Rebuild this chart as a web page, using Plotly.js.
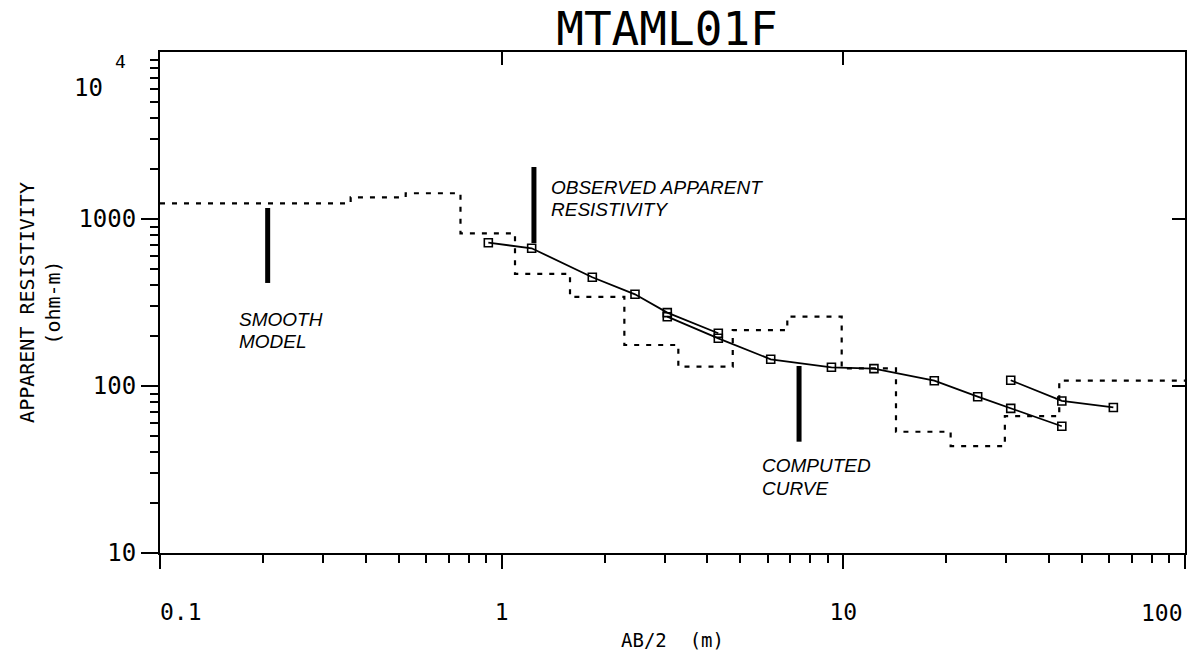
<!DOCTYPE html>
<html>
<head>
<meta charset="utf-8">
<script src="https://cdn.plot.ly/plotly-3.0.1.min.js"></script>
<style>html,body{margin:0;padding:0;background:#fff;}#chart{width:1189px;height:655px;}</style>
</head>
<body>
<div id="chart"></div>
<script>
// ---- Data ----
// Observed apparent resistivity / computed curve, three overlapping segments
const seg1AB  = [0.914, 1.224, 1.842, 2.456, 3.053, 4.306];
const seg1Rho = [721, 668, 448, 354, 275, 207];
const seg2AB  = [3.053, 4.306, 6.13, 9.23, 12.29, 18.46, 24.73, 30.9, 43.6];
const seg2Rho = [260, 193, 144.5, 129.4, 127, 107.6, 86.3, 73.5, 57.4];
const seg3AB  = [30.9, 43.6, 61.7];
const seg3Rho = [108.3, 81.4, 74.4];

// Smooth model (step line): layer boundaries (AB/2) and resistivities
const modelAB  = [0.1, 0.3614, 0.5237, 0.7576, 1.094, 1.585, 2.286, 3.289, 4.746, 6.855, 9.89, 14.26, 20.61, 29.7, 42.85, 100];
const modelRho = [1241, 1349, 1426, 821, 469, 342, 176, 130.5, 216, 260, 127.6, 53.2, 43.7, 66.1, 107.6, 107.6];

// Label pointer bars
const smoothPtrAB = [0.2066, 0.2066], smoothPtrRho = [1164, 414];
const obsPtrAB = [1.243, 1.243],      obsPtrRho = [2048, 718];
const compPtrAB = [7.42, 7.42],       compPtrRho = [131.8, 46.4];

// Tick labels
const xTickVals = [0.1, 1, 10, 100];
const xTickText = ['\u00A0\u00A0\u00A00.1', '1', '10', ''];
const xLastTickLabel = '100';
const yTickVals = [10, 100, 1000];
const yTickText = ['10', '100', '1000'];

function minorTicks(lo, hi) {
  const out = [];
  for (let d = lo; d < hi; d++) for (let k = 2; k <= 9; k++) out.push(k * Math.pow(10, d));
  return out;
}

const mono = 'DejaVu Sans Mono, Liberation Mono, monospace';
const sans = 'Liberation Sans, Arial, sans-serif';

const segLine = {color: '#000', width: 1.8};
const segMarker = {symbol: 'square-open', size: 8, color: '#000', line: {width: 1.6, color: '#000'}};

const traces = [
  {x: modelAB, y: modelRho, mode: 'lines', line: {shape: 'hv', color: '#000', width: 2.2, dash: '5px,7px'}, hoverinfo: 'skip'},
  {x: seg1AB, y: seg1Rho, mode: 'lines+markers', line: segLine, marker: segMarker},
  {x: seg2AB, y: seg2Rho, mode: 'lines+markers', line: segLine, marker: segMarker},
  {x: seg3AB, y: seg3Rho, mode: 'lines+markers', line: segLine, marker: segMarker},
  {x: smoothPtrAB, y: smoothPtrRho, mode: 'lines', line: {color: '#000', width: 5}, hoverinfo: 'skip'},
  {x: obsPtrAB, y: obsPtrRho, mode: 'lines', line: {color: '#000', width: 5}, hoverinfo: 'skip'},
  {x: compPtrAB, y: compPtrRho, mode: 'lines', line: {color: '#000', width: 5}, hoverinfo: 'skip'},
  {x: [], y: [], xaxis: 'x2', yaxis: 'y2', mode: 'lines', hoverinfo: 'skip'}
];

function lbl(text, x, y, size, anchor) {
  return {text: text, xref: 'paper', yref: 'paper', x: x, y: y, xanchor: anchor || 'left', yanchor: 'middle',
          showarrow: false, font: {family: sans, size: size || 19, color: '#000'}};
}

const layout = {
  width: 1189, height: 655,
  margin: {l: 160, r: 4, t: 52, b: 102},
  paper_bgcolor: '#fff', plot_bgcolor: '#fff',
  showlegend: false,
  title: {text: 'MTAML01F', font: {family: mono, size: 46, color: '#000'},
          xref: 'container', yref: 'container', x: 0.561, y: 0.956, xanchor: 'center', yanchor: 'middle'},
  xaxis: {
    type: 'log', range: [-1, 2], showgrid: false, zeroline: false,
    showline: true, linecolor: '#000', linewidth: 2, mirror: true,
    ticks: 'outside', ticklen: 14, tickwidth: 2, tickcolor: '#000',
    tickmode: 'array', tickvals: xTickVals, ticktext: xTickText, ticklabeloverflow: 'allow',
    tickfont: {family: mono, size: 23, color: '#000'}, ticklabelstandoff: 23,
    minor: {tickmode: 'array', tickvals: minorTicks(-1, 2), ticks: 'outside', ticklen: 8, tickwidth: 2, tickcolor: '#000', showgrid: false},
    title: {text: 'AB/2\u00A0\u00A0(m)', font: {family: mono, size: 19, color: '#000'}, standoff: 10}
  },
  yaxis: {
    type: 'log', range: [1, 4], showgrid: false, zeroline: false,
    showline: true, linecolor: '#000', linewidth: 2, mirror: true,
    ticks: 'outside', ticklen: 17, tickwidth: 2, tickcolor: '#000',
    tickmode: 'array', tickvals: yTickVals, ticktext: yTickText,
    tickfont: {family: mono, size: 24, color: '#000'},
    minor: {tickmode: 'array', tickvals: minorTicks(1, 4), ticks: 'outside', ticklen: 8, tickwidth: 2, tickcolor: '#000', showgrid: false},
    title: {text: 'APPARENT RESISTIVITY<br>(ohm-m)', font: {family: mono, size: 20, color: '#000'}, standoff: 12}
  },
  xaxis2: {
    type: 'log', range: [-1, 2], overlaying: 'x', side: 'top', anchor: 'y',
    showgrid: false, zeroline: false, showline: false, showticklabels: false,
    ticks: 'inside', ticklen: 13, tickwidth: 2, tickcolor: '#000', tickmode: 'array', tickvals: [1, 10]
  },
  yaxis2: {
    type: 'log', range: [1, 4], overlaying: 'y', side: 'right', anchor: 'x',
    showgrid: false, zeroline: false, showline: false, showticklabels: false,
    ticks: 'inside', ticklen: 13, tickwidth: 2, tickcolor: '#000', tickmode: 'array', tickvals: [100, 1000]
  },
  annotations: [
    lbl('<i>SMOOTH</i>', 0.0751, 0.4651),
    lbl('<i>MODEL</i>', 0.0751, 0.4212),
    lbl('<i>OBSERVED APPARENT</i>', 0.3795, 0.7305),
    lbl('<i>RESISTIVITY</i>', 0.3795, 0.6866),
    lbl('<i>COMPUTED</i>', 0.5854, 0.1756),
    lbl('<i>CURVE</i>', 0.5854, 0.1297),
    {text: xLastTickLabel, xref: 'x', yref: 'paper', x: Math.log10(xTickVals[3]), y: -0.119, xanchor: 'right', yanchor: 'middle',
     showarrow: false, font: {family: mono, size: 23, color: '#000'}},
    {text: '10', xref: 'paper', yref: 'paper', x: -0.0702, y: 0.928, xanchor: 'center', yanchor: 'middle',
     showarrow: false, font: {family: mono, size: 24, color: '#000'}},
    {text: '4', xref: 'paper', yref: 'paper', x: -0.039, y: 0.982, xanchor: 'center', yanchor: 'middle',
     showarrow: false, font: {family: mono, size: 18, color: '#000'}}
  ]
};

Plotly.newPlot('chart', traces, layout, {staticPlot: true, displayModeBar: false});
</script>
</body>
</html>
